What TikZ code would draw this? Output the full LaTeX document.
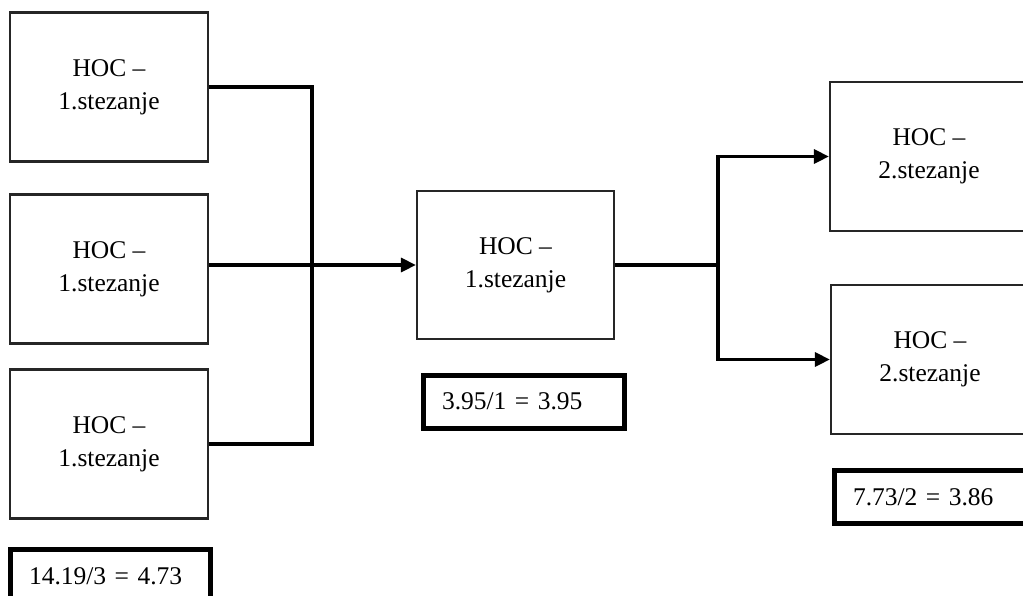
\documentclass[tikz,border=0pt]{standalone}
\usepackage{fontspec}
\setmainfont{Liberation Serif}
\usetikzlibrary{arrows.meta}
\begin{document}
\begin{tikzpicture}[x=1pt,y=-1pt,
  hoc/.style={draw=black!85, line width=2.2pt, minimum width=198pt, minimum height=149pt, inner sep=0pt, align=center,
    font=\fontsize{25.5}{33}\selectfont},
  ratio/.style={draw=black, line width=5pt, minimum width=200pt, minimum height=53pt, inner xsep=18pt,
    text width=162pt, align=left, font=\fontsize{25.5}{30}\selectfont},
  conn/.style={line width=3.2pt, line join=miter},
  arr/.style={conn, -{Triangle[length=15pt,width=14pt]}}]
\clip (0,0) rectangle (1023,595);
\fill[white] (0,0) rectangle (1023,595);
% left column
\node[hoc] (b1) at (109,87) {HOC --\\1.stezanje};
\node[hoc] (b2) at (109,269) {HOC --\\1.stezanje};
\node[hoc] (b3) at (109,444) {HOC --\\1.stezanje};
\node[ratio] (t1) at (110,576) {14.19/3 = 4.73};
% middle
\node[hoc, minimum width=197pt, minimum height=148pt] (m) at (515.5,265) {HOC --\\1.stezanje};
\node[ratio, minimum width=201pt, text width=163pt] (t2) at (523.5,401.5) {3.95/1 = 3.95};
% right
\node[hoc] (r1) at (929,156.5) {HOC --\\2.stezanje};
\node[hoc] (r2) at (930,359.5) {HOC --\\2.stezanje};
\node[ratio] (t3) at (934,497) {7.73/2 = 3.86};
% connectors
\coordinate (j) at (312,265);
\coordinate (k) at (718,265);
\draw[conn] (b1.east) -| (j) |- (b3.east);
\draw[arr] (b2.east |- m.west) -- (m.west);
\draw[conn] (m.east) -- (k);
\draw[arr] (k) |- (r1.west);
\draw[arr] (k) |- (r2.west);
\end{tikzpicture}
\end{document}
